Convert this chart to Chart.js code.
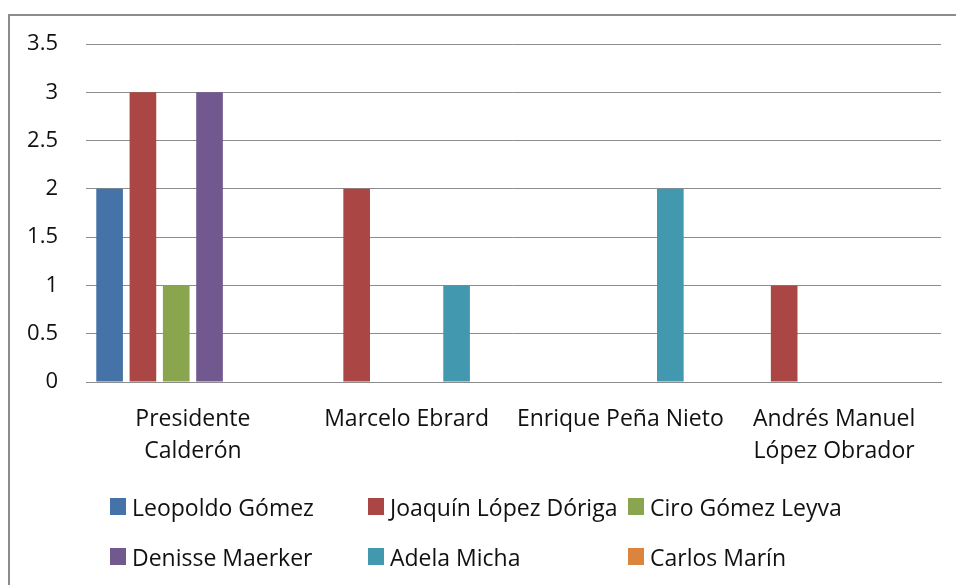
<!DOCTYPE html>
<html>
<head>
<meta charset="utf-8">
<script src="https://cdn.jsdelivr.net/npm/chart.js@4.4.1/dist/chart.umd.min.js"></script>
<style>
  html, body { margin: 0; padding: 0; background: #fff; overflow: hidden; }
  body { width: 956px; height: 585px; position: relative; font-family: "Open Sans", sans-serif; }
  #frame { position: absolute; left: 8px; top: 14px; width: 2000px; height: 2000px;
           border-left: 2px solid #8c8c8c; border-top: 2px solid #8c8c8c; }
  #wrap { position: absolute; left: 0; top: 0; width: 956px; height: 585px; }
  #legend { position: absolute; left: 110px; top: 490px; display: grid;
            grid-template-columns: 258px 260px auto; grid-auto-rows: 50px; }
  .li { display: flex; align-items: center; height: 33px; font-size: 23px; color: #111; white-space: nowrap; }
  .li span.box { display: inline-block; width: 16px; height: 17px; margin-right: 6px; }
</style>
</head>
<body>
<div id="frame"></div>
<div id="wrap"><canvas id="chart" width="956" height="585"></canvas></div>
<div id="legend"></div>
<script>
// ── Data ─────────────────────────────────────────────────────
const categories = [['Presidente', 'Calderón'], 'Marcelo Ebrard', 'Enrique Peña Nieto', ['Andrés Manuel', 'López Obrador']];
const seriesNames = ['Leopoldo Gómez', 'Joaquín López Dóriga', 'Ciro Gómez Leyva', 'Denisse Maerker', 'Adela Micha', 'Carlos Marín'];
const leopoldo = [2, null, null, null];
const joaquin  = [3, 2, null, 1];
const ciro     = [1, null, null, null];
const denisse  = [3, null, null, null];
const adela    = [null, 1, 2, null];
const carlos   = [null, null, null, null];
const yTicks   = [0, 0.5, 1, 1.5, 2, 2.5, 3, 3.5];

const colors = ['#4572A7', '#AA4643', '#89A54E', '#71588F', '#4198AF', '#DB843D'];
const values = [leopoldo, joaquin, ciro, denisse, adela, carlos];

// ── HTML legend in Excel-like grid ───────────────────────────
const htmlLegend = {
  id: 'htmlLegend',
  afterUpdate(chart) {
    const el = document.getElementById('legend');
    el.innerHTML = '';
    chart.data.datasets.forEach(ds => {
      const item = document.createElement('div');
      item.className = 'li';
      const box = document.createElement('span');
      box.className = 'box';
      box.style.background = ds.backgroundColor;
      item.appendChild(box);
      item.appendChild(document.createTextNode(ds.label));
      el.appendChild(item);
    });
  }
};

new Chart(document.getElementById('chart'), {
  type: 'bar',
  data: {
    labels: categories,
    datasets: seriesNames.map((name, i) => ({
      label: name,
      data: values[i],
      backgroundColor: colors[i],
      borderWidth: 0,
      categoryPercentage: 0.935,
      barPercentage: 0.8
    }))
  },
  options: {
    responsive: false,
    animation: false,
    layout: { padding: { top: 44, right: 15, left: 0, bottom: 0 } },
    scales: {
      x: {
        grid: { display: false, drawTicks: false },
        border: { display: true, color: '#8c8c8c', width: 1 },
        ticks: {
          color: '#111', font: { family: 'Open Sans', size: 23, lineHeight: 1.39 },
          padding: 21, maxRotation: 0, autoSkip: false
        },
        afterFit: s => { s.height = 203; }
      },
      y: {
        min: 0, max: 3.5,
        afterBuildTicks: s => { s.ticks = yTicks.map(v => ({ value: v })); },
        grid: { color: '#8c8c8c', drawTicks: false },
        border: { display: false },
        ticks: {
          color: '#111', font: { family: 'Open Sans', size: 22 }, padding: 28,
          callback: v => String(v)
        },
        afterFit: s => { s.width = 86; }
      }
    },
    plugins: {
      legend: { display: false },
      tooltip: { enabled: false }
    }
  },
  plugins: [htmlLegend]
});
</script>
</body>
</html>
